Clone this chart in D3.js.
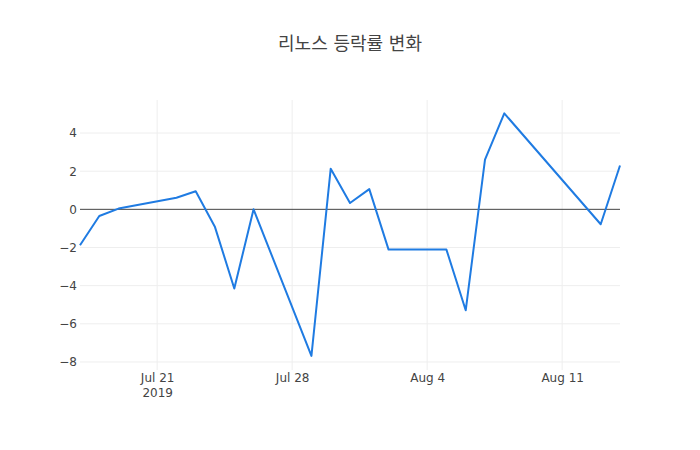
<!DOCTYPE html>
<html>
<head>
<meta charset="utf-8">
<script src="https://cdn.jsdelivr.net/npm/d3@7"></script>
<style>
  body { margin: 0; background: #fff; }
  svg { display: block; }
  text { font-family: "DejaVu Sans", "Noto Sans CJK KR", sans-serif; }
</style>
</head>
<body>
<div id="chart"></div>
<script>
const title = "리노스 등락률 변화";
const dates = [
  "2019-07-17", "2019-07-18", "2019-07-19", "2019-07-22", "2019-07-23",
  "2019-07-24", "2019-07-25", "2019-07-26", "2019-07-29", "2019-07-30",
  "2019-07-31", "2019-08-01", "2019-08-02", "2019-08-05", "2019-08-06",
  "2019-08-07", "2019-08-08", "2019-08-13", "2019-08-14"
];
const changes = [
  -1.88, -0.35, 0.04, 0.61, 0.95,
  -0.93, -4.15, 0.0, -7.68, 2.13,
  0.33, 1.06, -2.11, -2.11, -5.29,
  2.60, 5.03, -0.78, 2.30
];
const yTicks = [-8, -6, -4, -2, 0, 2, 4];
const xTickDates = ["2019-07-21", "2019-07-28", "2019-08-04", "2019-08-11"];
const xTickLabels = ["Jul 21", "Jul 28", "Aug 4", "Aug 11"];
const yDomain = [-8.42, 5.73];

const W = 700, H = 450;
const m = { l: 80, r: 80, t: 100, b: 80 };
const parse = d3.timeParse("%Y-%m-%d");
const data = dates.map((d, i) => ({ date: parse(d), v: changes[i] }));
const tickFont = '"DejaVu Sans", "Open Sans", sans-serif';

const svg = d3.select("#chart").append("svg").attr("width", W).attr("height", H);

const x = d3.scaleTime()
  .domain(d3.extent(data, d => d.date))
  .range([m.l, W - m.r]);
const y = d3.scaleLinear().domain(yDomain).range([H - m.b, m.t]);

// grid lines
const g = svg.append("g");
g.selectAll("line.xg").data(xTickDates).enter().append("line")
  .attr("x1", d => x(parse(d))).attr("x2", d => x(parse(d)))
  .attr("y1", m.t).attr("y2", H - m.b)
  .attr("stroke", "#eee").attr("stroke-width", 1);
g.selectAll("line.yg").data(yTicks.filter(t => t !== 0)).enter().append("line")
  .attr("x1", m.l).attr("x2", W - m.r)
  .attr("y1", d => y(d)).attr("y2", d => y(d))
  .attr("stroke", "#eee").attr("stroke-width", 1);

// y axis labels
const yAxis = d3.axisLeft(y).tickValues(yTicks).tickSize(0).tickPadding(3)
  .tickFormat(d => d3.format("d")(d).replace("-", "\u2212"));
const ya = svg.append("g").attr("transform", `translate(${m.l},0)`).call(yAxis);
ya.select(".domain").remove();
ya.selectAll("text").attr("font-size", 12).attr("fill", "#444")
  .attr("font-family", tickFont);

// x axis labels
const xAxis = d3.axisBottom(x).tickValues(xTickDates.map(parse)).tickSize(0).tickPadding(3)
  .tickFormat((d, i) => xTickLabels[i]);
const xa = svg.append("g").attr("transform", `translate(0,${H - m.b})`).call(xAxis);
xa.select(".domain").remove();
xa.selectAll("text").attr("font-size", 12).attr("fill", "#444")
  .attr("font-family", tickFont);
// year label under the first tick
xa.selectAll(".tick").filter((d, i) => i === 0).append("text")
  .attr("y", 18).attr("dy", "0.71em").attr("text-anchor", "middle")
  .attr("font-size", 12).attr("fill", "#444")
  .attr("font-family", tickFont)
  .text("2019");

// zero line
svg.append("line")
  .attr("x1", m.l).attr("x2", W - m.r)
  .attr("y1", y(0)).attr("y2", y(0))
  .attr("stroke", "#444").attr("stroke-width", 1);

// data line
const line = d3.line().x(d => x(d.date)).y(d => y(d.v));
svg.append("path").datum(data)
  .attr("d", line)
  .attr("fill", "none")
  .attr("stroke", "#1f7be2")
  .attr("stroke-width", 2)
  .attr("stroke-linejoin", "round");

// title
svg.append("text")
  .attr("x", W / 2).attr("y", 50)
  .attr("text-anchor", "middle")
  .attr("font-size", 18).attr("fill", "#444")
  .attr("font-family", '"DejaVu Sans", "Noto Sans CJK KR", sans-serif')
  .text(title);
</script>
</body>
</html>
